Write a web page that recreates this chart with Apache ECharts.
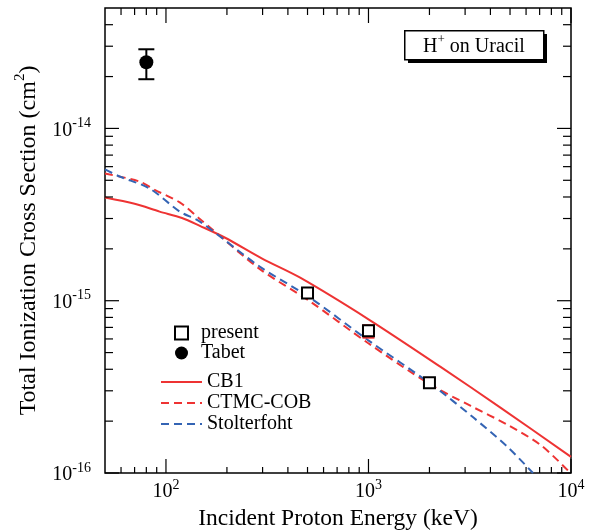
<!DOCTYPE html>
<html>
<head>
<meta charset="utf-8">
<title>H+ on Uracil</title>
<script src="https://cdn.jsdelivr.net/npm/echarts@6/dist/echarts.min.js"></script>
<style>
html, body { margin: 0; padding: 0; background: #fff; }
#chart { width: 599px; height: 531px; }
</style>
</head>
<body>
<div id="chart"></div>
<script>
// values: energy in keV, cross section in cm^2
const cb1Energy = [50, 70, 93, 120, 147, 196, 300, 460, 1000, 2270, 4500, 10000];
const cb1Sigma = [3.97e-15, 3.65e-15, 3.29e-15, 3.02e-15, 2.72e-15, 2.32e-15, 1.75e-15, 1.36e-15, 7.8e-16, 4.13e-16, 2.39e-16, 1.24e-16];

const ctmcEnergy = [50, 74, 88, 117, 147, 165, 290, 515, 990, 2030, 3200, 4880, 7100, 9770];
const ctmcSigma = [5.47e-15, 4.92e-15, 4.4e-15, 3.72e-15, 2.98e-15, 2.66e-15, 1.53e-15, 9.9e-16, 5.7e-16, 3.25e-16, 2.45e-16, 1.9e-16, 1.45e-16, 1.02e-16];

const stolEnergy = [50, 59, 83, 117, 147, 290, 515, 990, 2030, 3310, 4880, 6490];
const stolSigma = [5.78e-15, 5.26e-15, 4.48e-15, 3.29e-15, 2.88e-15, 1.58e-15, 1.04e-15, 5.93e-16, 3.29e-16, 2.09e-16, 1.41e-16, 1.0e-16];

const presentEnergy = [500, 1000, 2000];
const presentSigma = [1.11e-15, 6.7e-16, 3.34e-16];
const presentLow = [1.06e-15, 6.1e-16, 3.18e-16];
const presentHigh = [1.17e-15, 7.2e-16, 3.5e-16];

const tabetEnergy = [80];
const tabetSigma = [2.42e-14];
const tabetLow = [1.93e-14];
const tabetHigh = [2.88e-14];

// axes
const xMin = 50, xMax = 10000;
const yMin = 1e-16, yMax = 5e-14;
const xMajorTicks = [100, 1000, 10000];
const xMinorTicks = [60, 70, 80, 90, 200, 300, 400, 500, 600, 700, 800, 900,
    2000, 3000, 4000, 5000, 6000, 7000, 8000, 9000];
const yMajorTicks = [1e-16, 1e-15, 1e-14];
const yMinorTicks = [2e-16, 3e-16, 4e-16, 5e-16, 6e-16, 7e-16, 8e-16, 9e-16,
    2e-15, 3e-15, 4e-15, 5e-15, 6e-15, 7e-15, 8e-15, 9e-15,
    2e-14, 3e-14, 4e-14];

const FONT = '"Liberation Serif", "DejaVu Serif", serif';
const RED = '#ee3333';
const BLUE = '#3464b4';

function pairs(xs, ys) {
    return xs.map((x, i) => [x, ys[i]]);
}

function tickLine(x1, y1, x2, y2) {
    return {type: 'line', shape: {x1: x1, y1: y1, x2: x2, y2: y2},
        style: {stroke: '#000', lineWidth: 1.2}};
}

// ticks on bottom + top
function renderXTick(params, api) {
    const v = api.value(0);
    const major = api.value(2) === 1;
    const b = api.coord([v, yMin]);
    const t = api.coord([v, yMax]);
    return {type: 'group', children: [
        tickLine(b[0], b[1], b[0], b[1] - (major ? 14 : 6)),
        tickLine(t[0], t[1], t[0], t[1] + (major ? 15 : 7))
    ]};
}

// ticks on left + right
function renderYTick(params, api) {
    const v = api.value(1);
    const major = api.value(2) === 1;
    const l = api.coord([xMin, v]);
    const r = api.coord([xMax, v]);
    return {type: 'group', children: [
        tickLine(l[0], l[1], l[0] + (major ? 14 : 8), l[1]),
        tickLine(r[0], r[1], r[0] - (major ? 14 : 8), r[1])
    ]};
}

// vertical error bar with caps
function errorBar(color, capW) {
    return function (params, api) {
        const x = api.value(0);
        const lo = api.coord([x, api.value(1)]);
        const hi = api.coord([x, api.value(2)]);
        const st = {stroke: color, lineWidth: 2};
        return {type: 'group', children: [
            {type: 'line', shape: {x1: lo[0], y1: lo[1], x2: hi[0], y2: hi[1]}, style: st},
            {type: 'line', shape: {x1: lo[0] - capW / 2, y1: lo[1], x2: lo[0] + capW / 2, y2: lo[1]}, style: st},
            {type: 'line', shape: {x1: hi[0] - capW / 2, y1: hi[1], x2: hi[0] + capW / 2, y2: hi[1]}, style: st}
        ]};
    };
}

function powLabel(v) {
    const e = Math.log10(v);
    if (Math.abs(e - Math.round(e)) > 1e-6) return '';
    return '{b|10}{s|' + Math.round(e) + '}';
}

const supRich = {
    b: {fontFamily: FONT, fontSize: 20, color: '#000', padding: [4, 0, 0, 0]},
    s: {fontFamily: FONT, fontSize: 14, color: '#000', verticalAlign: 'top'}
};

let myChart = echarts.init(document.getElementById('chart'));

let option = {
    backgroundColor: '#fff',
    animation: false,
    graphic: [
        // "H+ on Uracil" box with its drop shadow
        {type: 'rect', left: 408, top: 34, shape: {width: 139, height: 29},
            style: {fill: '#000'}, z: 10},
        {type: 'rect', left: 404, top: 30, shape: {width: 139, height: 29},
            style: {fill: '#fff', stroke: '#000', lineWidth: 1.5}, z: 11},
        {type: 'text', left: 423, top: 33, z: 12,
            style: {
                text: '{h|H}{s|+}{h| on Uracil}',
                rich: {
                    h: {fontFamily: FONT, fontSize: 20, fill: '#000', padding: [4, 0, 0, 0]},
                    s: {fontFamily: FONT, fontSize: 13, fill: '#000', verticalAlign: 'top'}
                }
            }}
    ],
    legend: [
        {
            data: ['present', 'Tabet'],
            orient: 'vertical',
            left: 174,
            top: 323,
            padding: 0,
            itemWidth: 13,
            itemHeight: 13,
            itemGap: 0,
            textStyle: {fontFamily: FONT, fontSize: 20, color: '#000', lineHeight: 19, padding: [0, 0, 0, 8]}
        },
        {
            data: ['CB1', 'CTMC-COB', 'Stolterfoht'],
            orient: 'vertical',
            left: 160,
            top: 372,
            padding: 0,
            itemWidth: 41,
            itemHeight: 14,
            itemGap: 1,
            itemStyle: {color: 'rgba(0,0,0,0)', borderWidth: 0},
            textStyle: {fontFamily: FONT, fontSize: 20, color: '#000', lineHeight: 19}
        }
    ],
    grid: {
        left: 105,
        right: 28,
        top: 8,
        bottom: 58,
        outerBoundsMode: 'none',
        containLabel: false,
        show: true,
        borderColor: '#000',
        borderWidth: 1.5,
        backgroundColor: 'transparent'
    },
    xAxis: {
        type: 'log',
        logBase: 10,
        min: xMin,
        max: xMax,
        name: 'Incident Proton Energy (keV)',
        nameLocation: 'middle',
        nameGap: 30,
        nameTextStyle: {fontFamily: FONT, fontSize: 23.5, color: '#000'},
        axisLine: {show: false},
        axisTick: {show: false},
        splitLine: {show: false},
        minorTick: {show: false},
        axisLabel: {
            formatter: powLabel,
            margin: 5,
            showMinLabel: false,
            rich: supRich
        }
    },
    yAxis: {
        type: 'log',
        logBase: 10,
        min: yMin,
        max: yMax,
        name: '{n|Total Ionization Cross Section (cm}{s|2}{n|)}',
        nameLocation: 'middle',
        nameGap: 64,
        nameTextStyle: {
            rich: {
                n: {fontFamily: FONT, fontSize: 24, color: '#000', padding: [4, 0, 0, 0]},
                s: {fontFamily: FONT, fontSize: 15, color: '#000', verticalAlign: 'top'}
            }
        },
        axisLine: {show: false},
        axisTick: {show: false},
        splitLine: {show: false},
        minorTick: {show: false},
        axisLabel: {
            formatter: powLabel,
            margin: 14,
            showMaxLabel: false,
            rich: supRich
        }
    },
    series: [
        {
            name: 'CB1',
            type: 'line',
            data: pairs(cb1Energy, cb1Sigma),
            symbol: 'none',
            showSymbol: false,
            smooth: 0.3,
            clip: true,
            lineStyle: {color: RED, width: 2},
            itemStyle: {color: RED},
            z: 3
        },
        {
            name: 'CTMC-COB',
            type: 'line',
            data: pairs(ctmcEnergy, ctmcSigma),
            symbol: 'none',
            showSymbol: false,
            smooth: 0.3,
            clip: true,
            lineStyle: {color: RED, width: 2, type: [8, 5]},
            itemStyle: {color: RED},
            z: 3
        },
        {
            name: 'Stolterfoht',
            type: 'line',
            data: pairs(stolEnergy, stolSigma),
            symbol: 'none',
            showSymbol: false,
            smooth: 0.3,
            clip: true,
            lineStyle: {color: BLUE, width: 2, type: [8, 5]},
            itemStyle: {color: BLUE},
            z: 3
        },
        {
            name: 'presentErr',
            type: 'custom',
            data: presentEnergy.map((x, i) => [x, presentLow[i], presentHigh[i]]),
            encode: {x: 0, y: [1, 2]},
            renderItem: errorBar(RED, 12),
            clip: false,
            z: 4
        },
        {
            name: 'present',
            type: 'scatter',
            data: pairs(presentEnergy, presentSigma),
            symbol: 'rect',
            symbolSize: 11,
            itemStyle: {color: '#fff', borderColor: '#000', borderWidth: 2, opacity: 1},
            z: 5
        },
        {
            name: 'tabetErr',
            type: 'custom',
            data: tabetEnergy.map((x, i) => [x, tabetLow[i], tabetHigh[i]]),
            encode: {x: 0, y: [1, 2]},
            renderItem: errorBar('#000', 16),
            clip: false,
            z: 4
        },
        {
            name: 'Tabet',
            type: 'scatter',
            data: pairs(tabetEnergy, tabetSigma),
            symbol: 'circle',
            symbolSize: 14,
            itemStyle: {color: '#000', opacity: 1},
            z: 5
        },
        {
            name: 'xTicks',
            type: 'custom',
            data: xMajorTicks.map(v => [v, yMin, 1]).concat(xMinorTicks.map(v => [v, yMin, 0])),
            encode: {x: 0, y: 1},
            renderItem: renderXTick,
            clip: false,
            silent: true,
            z: 6
        },
        {
            name: 'yTicks',
            type: 'custom',
            data: yMajorTicks.map(v => [xMin, v, 1]).concat(yMinorTicks.map(v => [xMin, v, 0])),
            encode: {x: 0, y: 1},
            renderItem: renderYTick,
            clip: false,
            silent: true,
            z: 6
        }
    ]
};

myChart.setOption(option);
</script>
</body>
</html>
